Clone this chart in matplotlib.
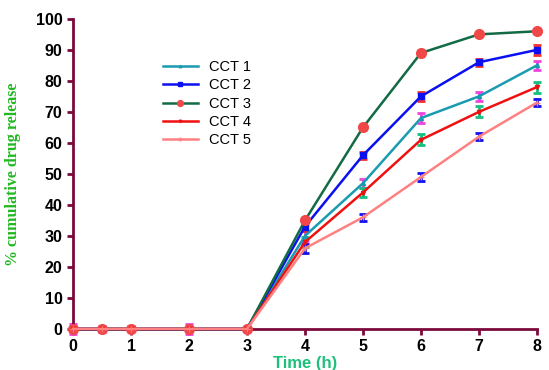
import numpy as np
import matplotlib.pyplot as plt

time = [0, 0.5, 1, 2, 3, 4, 5, 6, 7, 8]

cct1 = [0, 0, 0, 0, 0, 30, 47, 68, 75, 85]
cct2 = [0, 0, 0, 0, 0, 33, 56, 75, 86, 90]
cct3 = [0, 0, 0, 0, 0, 35, 65, 89, 95, 96]
cct4 = [0, 0, 0, 0, 0, 28, 44, 61, 70, 78]
cct5 = [0, 0, 0, 0, 0, 26, 36, 49, 62, 73]

err1 = [1.5, 1, 0.8, 1.5, 0.5, 1.5, 1.5, 1.5, 1.5, 1.5]
err2 = [0.5, 0.5, 0.5, 0.5, 0.5, 1.5, 1.2, 1.5, 1.2, 1.5]
err3 = [0.5, 0.5, 0.5, 0.5, 0.5, 1.2, 1.0, 1.0, 0.8, 0.8]
err4 = [0.5, 0.5, 0.5, 0.5, 0.5, 1.5, 1.5, 1.8, 1.8, 1.8]
err5 = [0.5, 0.5, 0.5, 0.5, 0.5, 1.5, 1.2, 1.2, 1.2, 1.2]

series = [
    ("CCT 1", cct1, err1, "#1a9bb0", "^", 3, "#ee44dd"),
    ("CCT 2", cct2, err2, "#0a10f0", "s", 4, "#f03030"),
    ("CCT 3", cct3, err3, "#126b45", "o", 7, "#f0a0e8"),
    ("CCT 4", cct4, err4, "#f01010", "v", 3, "#15c080"),
    ("CCT 5", cct5, err5, "#ff8080", "+", 4, "#1010f0"),
]

fig = plt.figure(figsize=(5.49, 3.70), dpi=100)
ax = fig.add_axes([0.133, 0.111, 0.845, 0.838])

for label, vals, err, color, marker, ms, ecolor in series:
    ax.errorbar(time, vals, yerr=err, fmt="none", ecolor=ecolor,
                elinewidth=2, capsize=3, capthick=2, clip_on=False, zorder=2)
    mfc = "#f04848" if label == "CCT 3" else color
    ax.plot(time, vals, color=color, lw=1.8, marker=marker, ms=ms,
            mfc=mfc, mec=mfc, label=label, clip_on=False, zorder=3)

ax.set_xlim(0, 8)
ax.set_ylim(0, 100)
ax.set_xticks(range(0, 9))
ax.set_yticks(range(0, 101, 10))

spine_color = "#7a0a3a"
for side in ["top", "right"]:
    ax.spines[side].set_visible(False)
for side in ["left", "bottom"]:
    ax.spines[side].set_color(spine_color)
    ax.spines[side].set_linewidth(2)
ax.tick_params(colors=spine_color, width=2, length=4, labelcolor="black")
for lbl in ax.get_xticklabels() + ax.get_yticklabels():
    lbl.set_fontweight("bold")
    lbl.set_fontsize(11.5)
    lbl.set_family("Liberation Sans")

ax.set_xlabel("Time (h)", color="#1cc07a", fontweight="bold", fontsize=12,
              family="Liberation Sans", labelpad=1)
ax.set_ylabel("% cumulative drug release", color="#22b822", fontweight="bold",
              fontsize=11.5, family="Liberation Serif", labelpad=11)

leg = ax.legend(loc="upper left", bbox_to_anchor=(0.165, 0.91), frameon=False,
                prop={"family": "Liberation Sans", "size": 10.5},
                handlelength=2.4, labelspacing=0.3, markerscale=0.6)

fig.savefig("out.png", dpi=100)
